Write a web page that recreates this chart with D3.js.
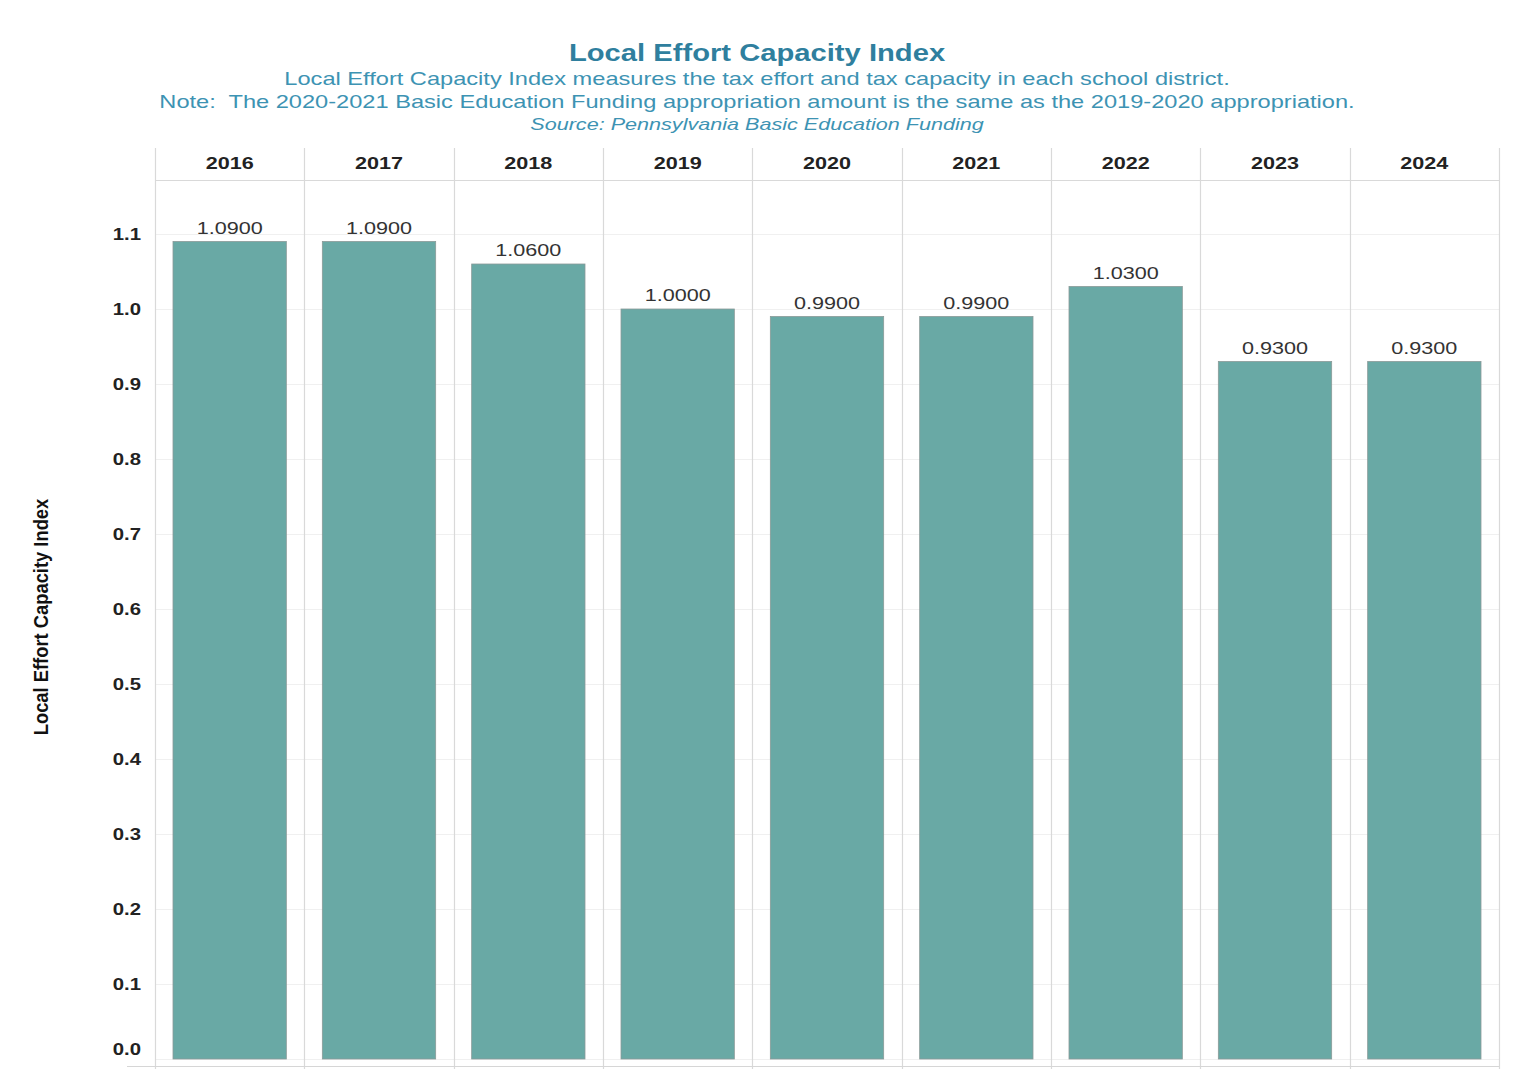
<!DOCTYPE html>
<html>
<head>
<meta charset="utf-8">
<script src="https://cdn.jsdelivr.net/npm/d3@7"></script>
<style>
  html, body { margin: 0; padding: 0; background: #ffffff; }
  svg { display: block; }
</style>
</head>
<body>
<div id="chart"></div>
<script>
// Local Effort Capacity Index by school year
const years = ["2016", "2017", "2018", "2019", "2020", "2021", "2022", "2023", "2024"];
const indexValues = [1.09, 1.09, 1.06, 1.00, 0.99, 0.99, 1.03, 0.93, 0.93];
const yTicks = [0.0, 0.1, 0.2, 0.3, 0.4, 0.5, 0.6, 0.7, 0.8, 0.9, 1.0, 1.1];

const titleText = "Local Effort Capacity Index";
const subtitleLines = [
  "Local Effort Capacity Index measures the tax effort and tax capacity in each school district.",
  "Note:  The 2020-2021 Basic Education Funding appropriation amount is the same as the 2019-2020 appropriation."
];
const sourceText = "Source: Pennsylvania Basic Education Funding";
const yAxisTitle = "Local Effort Capacity Index";

const W = 1539, H = 1069;
const plot = { left: 155, right: 1499, headerTop: 148, headerBottom: 180, bottom: 1059 };
// glyphs are drawn wide: horizontal text stretch
const SX = 1.27;
const FONT = "Liberation Sans, Arial, sans-serif";

const svg = d3.select("#chart").append("svg")
  .attr("width", W).attr("height", H);

const x = d3.scaleBand()
  .domain(years)
  .range([plot.left, plot.right])
  .paddingInner(0)
  .paddingOuter(0);

const y = d3.scaleLinear()
  .domain([0, 1.1])
  .range([plot.bottom, plot.bottom - 1.1 * 750]);

// text placed at (px, py) and stretched horizontally
function wideText(sel, px, py) {
  return sel.attr("transform", (d, i) => {
    const a = typeof px === "function" ? px(d, i) : px;
    const b = typeof py === "function" ? py(d, i) : py;
    return `translate(${a},${b}) scale(${SX},1)`;
  });
}

// Titles
const titleColor = "#2f7f9e";
const subColor = "#3d93b3";
const cx = 757;
wideText(svg.append("text"), cx, 61)
  .attr("text-anchor", "middle")
  .attr("font-family", FONT)
  .attr("font-weight", "bold")
  .attr("font-size", 23)
  .attr("fill", titleColor)
  .text(titleText);

subtitleLines.forEach((line, i) => {
  wideText(svg.append("text"), cx, 85 + i * 23)
    .attr("text-anchor", "middle")
    .attr("font-family", FONT)
    .attr("font-size", 18.6)
    .attr("fill", subColor)
    .style("white-space", "pre")
    .text(line);
});

wideText(svg.append("text"), cx, 130)
  .attr("text-anchor", "middle")
  .attr("font-family", FONT)
  .attr("font-style", "italic")
  .attr("font-size", 17)
  .attr("fill", subColor)
  .text(sourceText);

// Horizontal gridlines
const grid = svg.append("g");
grid.selectAll("line.h")
  .data(yTicks)
  .join("line")
  .attr("x1", plot.left).attr("x2", plot.right)
  .attr("y1", d => Math.round(y(d)) + 0.5)
  .attr("y2", d => Math.round(y(d)) + 0.5)
  .attr("stroke", "#f0f0f0")
  .attr("stroke-width", 1);

// Column dividers (header + panes)
const edges = years.map(d => x(d)).concat([plot.right]);
grid.selectAll("line.v")
  .data(edges)
  .join("line")
  .attr("x1", d => Math.round(d) + 0.5).attr("x2", d => Math.round(d) + 0.5)
  .attr("y1", plot.headerTop).attr("y2", H)
  .attr("stroke", "#d9d9d9")
  .attr("stroke-width", 1.2);

// Header bottom rule and bottom rule
svg.append("line")
  .attr("x1", plot.left).attr("x2", plot.right)
  .attr("y1", plot.headerBottom + 0.5).attr("y2", plot.headerBottom + 0.5)
  .attr("stroke", "#d9d9d9").attr("stroke-width", 1.2);
svg.append("line")
  .attr("x1", plot.left - 28).attr("x2", plot.right)
  .attr("y1", plot.bottom + 7.5).attr("y2", plot.bottom + 7.5)
  .attr("stroke", "#d6d6d6").attr("stroke-width", 1.2);

// Column headers
wideText(svg.append("g").selectAll("text")
  .data(years)
  .join("text"), d => x(d) + x.bandwidth() / 2, 169)
  .attr("text-anchor", "middle")
  .attr("font-family", FONT)
  .attr("font-weight", "bold")
  .attr("font-size", 17)
  .attr("fill", "#222")
  .text(d => d);

// Bars
const barData = years.map((yr, i) => ({ yr, v: indexValues[i] }));
const barPad = 18;
svg.append("g").selectAll("rect")
  .data(barData)
  .join("rect")
  .attr("x", d => x(d.yr) + barPad)
  .attr("width", x.bandwidth() - 2 * barPad)
  .attr("y", d => y(d.v))
  .attr("height", d => y(0) - y(d.v))
  .attr("fill", "#69a9a5")
  .attr("stroke", "#8a9a98")
  .attr("stroke-width", 0.8);

// Value labels
wideText(svg.append("g").selectAll("text")
  .data(barData)
  .join("text"), d => x(d.yr) + x.bandwidth() / 2, d => y(d.v) - 8)
  .attr("text-anchor", "middle")
  .attr("font-family", FONT)
  .attr("font-size", 17)
  .attr("fill", "#333")
  .text(d => d.v.toFixed(4));

// Y axis tick labels
const yAxis = d3.axisLeft(y)
  .tickValues(yTicks)
  .tickSize(0)
  .tickPadding(0)
  .tickFormat(d3.format(".1f"));
const yg = svg.append("g")
  .attr("transform", `translate(${plot.left - 14},0)`)
  .call(yAxis);
yg.select(".domain").remove();
yg.selectAll("text")
  .attr("x", 0)
  .attr("transform", `scale(${SX},1)`)
  .attr("font-family", FONT)
  .attr("font-weight", "bold")
  .attr("font-size", 16)
  .attr("fill", "#222")
  .attr("dy", d => d === 0 ? "-0.3em" : "0.32em");

// Y axis title
svg.append("text")
  .attr("transform", `translate(48, 617) rotate(-90) scale(1.08,1.2)`)
  .attr("text-anchor", "middle")
  .attr("font-family", FONT)
  .attr("font-weight", "bold")
  .attr("font-size", 17)
  .attr("fill", "#111")
  .text(yAxisTitle);
</script>
</body>
</html>
